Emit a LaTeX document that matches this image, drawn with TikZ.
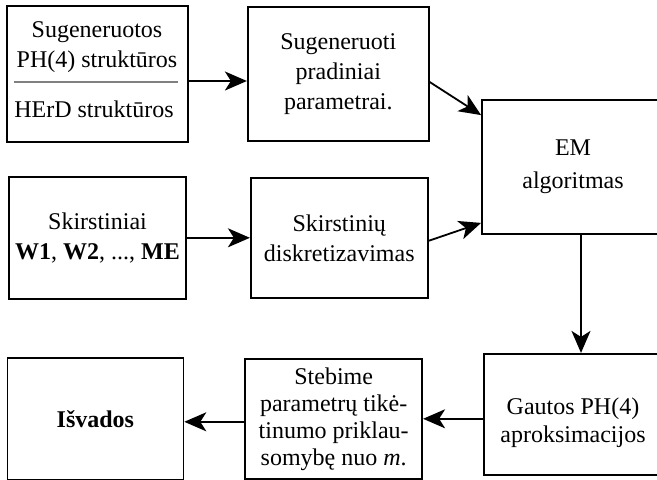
\documentclass[tikz,border=0pt]{standalone}
\usepackage{fontspec}
\setmainfont{Liberation Serif}
\usetikzlibrary{arrows.meta, positioning}

\begin{document}
\begin{tikzpicture}[
    x=1pt, y=-1pt,
    node distance=58pt,
    box/.style={rectangle, draw=black, line width=1.8pt, align=center, inner sep=0pt, font=\fontsize{24}{30}\selectfont},
    plain/.style={align=center, inner sep=0pt, font=\fontsize{24}{30}\selectfont},
    arrow/.style={line width=1.8pt, -{Stealth[length=22pt, width=19pt, inset=6pt]}}
]
    \useasboundingbox (0,0) rectangle (657,480);
    \fill[white] (0,0) rectangle (657,480);
    \clip (0,0) rectangle (657,480);

    \node[box, minimum width=181pt, minimum height=136pt] (gen) at (97.5,74) {};
    \node[plain] (genph) at (97,47) {Sugeneruotos\\PH(4) struktūros};
    \node[plain] (generd) at (94,109) {HErD struktūros};
    \draw[gray, line width=1.2pt] (14,82) -- (178,82);

    \node[box, minimum width=181pt, minimum height=134pt, right=58pt of gen] (param) {Sugeneruoti\\pradiniai\\parametrai.};
    \node[box, minimum width=177pt, minimum height=122pt, below=33pt of gen] (skirst) {Skirstiniai\\\textbf{W1}, \textbf{W2}, ..., \textbf{ME}};
    \node[box, minimum width=177pt, minimum height=120pt, right=63pt of skirst] (diskr) {Skirstinių\\diskretizavimas};
    \node[box, minimum width=182pt, minimum height=134pt, font=\fontsize{24}{33}\selectfont] (em) at (573,167) {EM\\algoritmas};
    \node[box, minimum width=178pt, minimum height=121pt, font=\fontsize{24}{28}\selectfont, below=118pt of em] (gautos) {\rule{0pt}{33pt}Gautos PH(4)\\aproksimacijos};
    \node[box, minimum width=177pt, minimum height=120pt, font=\fontsize{24}{27}\selectfont, left=60pt of gautos, yshift=-4.5pt] (stebime) {Stebime\\parametrų tikė-\\tinumo priklau-\\somybę nuo \textit{m}.};
    \node[box, minimum width=176pt, minimum height=122pt, left=60pt of stebime] (isvados) {\textbf{Išvados}};

    \draw[arrow] ([yshift=-7pt]gen.east) -- ([yshift=-7pt]param.west);
    \draw[arrow] ([yshift=-8pt]param.east) -- ([yshift=-16pt]em.north west);
    \draw[arrow] (skirst) -- (diskr);
    \draw[arrow] ([yshift=-3pt]diskr.east) -- ([yshift=12pt]em.south west);
    \draw[arrow] ([xshift=8pt]em.south) -- ([xshift=8pt]gautos.north);
    \draw[arrow] (gautos.west |- stebime) -- (stebime);
    \draw[arrow] ([yshift=-3pt]stebime.west) -- ([yshift=-3pt]isvados.east);

\end{tikzpicture}
\end{document}
